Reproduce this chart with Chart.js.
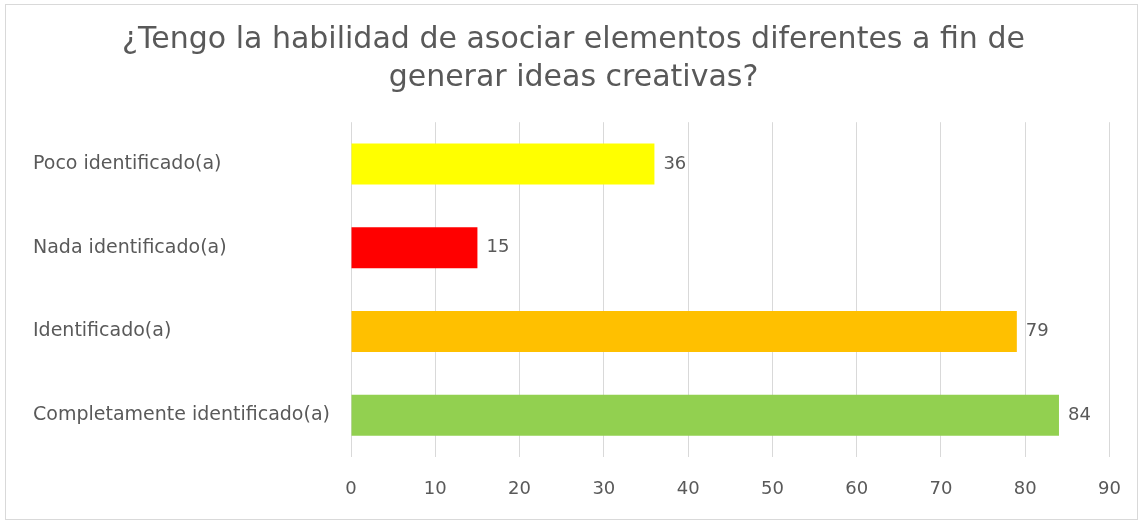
<!DOCTYPE html>
<html>
<head>
<meta charset="utf-8">
<script src="https://cdn.jsdelivr.net/npm/chart.js@4"></script>
<style>
  html, body { margin: 0; padding: 0; background: #fff; }
  #wrap { position: relative; width: 1143px; height: 523px; }
</style>
</head>
<body>
<div id="wrap"><canvas id="chart"></canvas></div>
<script>
const categories = ['Poco identificado(a)', 'Nada identificado(a)', 'Identificado(a)', 'Completamente identificado(a)'];
const values = [36, 15, 79, 84];
const barColors = ['#FFFF00', '#FF0000', '#FFC000', '#92D050'];
const titleLines = ['¿Tengo la habilidad de asociar elementos diferentes a fin de', 'generar ideas creativas?'];

const textColor = '#595959';
const fontFamily = '"DejaVu Sans", "Open Sans", sans-serif';

// thin frame around the whole chart
const frame = {
  id: 'frame',
  beforeDraw(chart) {
    const ctx = chart.ctx;
    ctx.save();
    ctx.fillStyle = '#fff';
    ctx.fillRect(0, 0, chart.width, chart.height);
    ctx.strokeStyle = '#d9d9d9';
    ctx.lineWidth = 1;
    ctx.strokeRect(5.5, 4.5, chart.width - 11, chart.height - 8);
    ctx.restore();
  }
};

// value labels at the end of each bar
const valueLabels = {
  id: 'valueLabels',
  afterDatasetsDraw(chart) {
    const ctx = chart.ctx;
    ctx.save();
    ctx.font = '18px ' + fontFamily;
    ctx.fillStyle = textColor;
    ctx.textAlign = 'left';
    ctx.textBaseline = 'middle';
    chart.getDatasetMeta(0).data.forEach((bar, i) => {
      ctx.fillText(values[i], bar.x + 9, bar.y);
    });
    ctx.restore();
  }
};

new Chart(document.getElementById('chart'), {
  type: 'bar',
  data: {
    labels: categories,
    datasets: [{
      data: values,
      backgroundColor: barColors,
      borderWidth: 0,
      categoryPercentage: 1,
      barPercentage: 0.49
    }]
  },
  options: {
    indexAxis: 'y',
    responsive: true,
    maintainAspectRatio: false,
    animation: false,
    layout: { padding: { left: 33, right: 29, top: 0, bottom: 0 } },
    plugins: {
      legend: { display: false },
      tooltip: { enabled: false },
      title: {
        display: true,
        text: titleLines,
        color: textColor,
        font: { family: fontFamily, size: 30, weight: 'normal', lineHeight: 1.27 },
        padding: { top: 21, bottom: 25 }
      }
    },
    scales: {
      x: {
        min: 0,
        max: 90,
        ticks: {
          stepSize: 10,
          color: textColor,
          padding: 22,
          font: { family: fontFamily, size: 18 }
        },
        grid: { color: '#d9d9d9', drawTicks: false },
        border: { display: false },
        afterFit(scale) { scale.height = 66; }
      },
      y: {
        ticks: {
          color: textColor,
          crossAlign: 'far',
          font: { family: fontFamily, size: 19 }
        },
        grid: { display: false },
        border: { display: false },
        afterFit(scale) { scale.width = 318; }
      }
    }
  },
  plugins: [frame, valueLabels]
});
</script>
</body>
</html>
